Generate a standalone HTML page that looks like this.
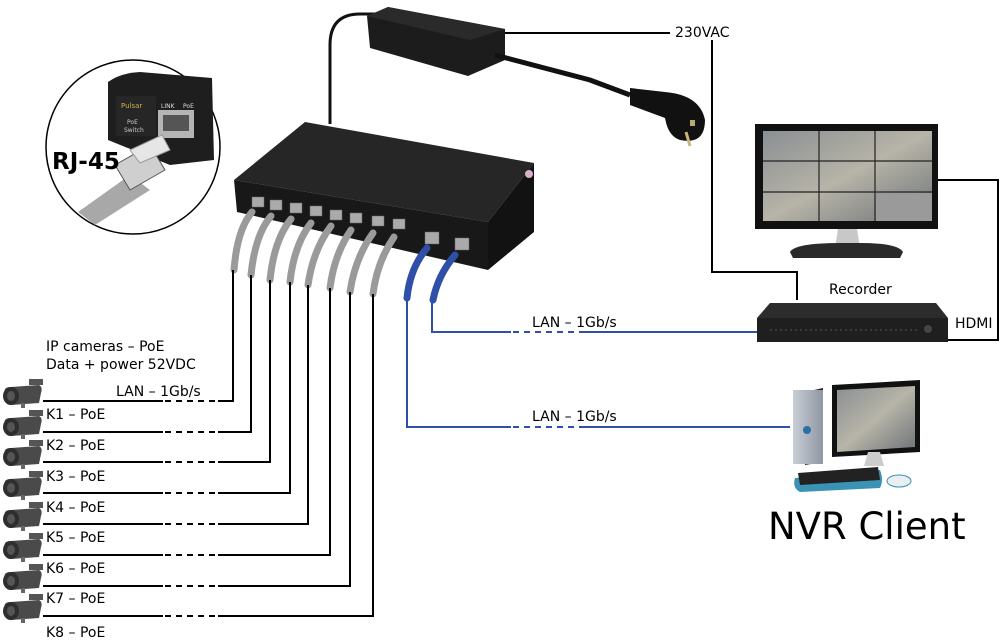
<!DOCTYPE html>
<html><head><meta charset="utf-8"><style>
html,body{margin:0;padding:0;background:#fff;}
svg{display:block;}
text{font-family:"DejaVu Sans","Liberation Sans",sans-serif;fill:#000;}
</style></head><body>
<svg width="1000" height="643" viewBox="0 0 1000 643" xmlns="http://www.w3.org/2000/svg">
<defs>
<linearGradient id="scr" x1="0" y1="0" x2="1" y2="1"><stop offset="0" stop-color="#8a8f93"/><stop offset="0.5" stop-color="#b7b4a8"/><stop offset="1" stop-color="#6d7377"/></linearGradient>
<linearGradient id="tow" x1="0" y1="0" x2="1" y2="0"><stop offset="0" stop-color="#c9ced6"/><stop offset="1" stop-color="#8f97a3"/></linearGradient>
<g id="cam">
<path d="M4,8 Q2,2 10,2 L38,0 Q42,2 40,8 L38,18 L10,20 Q2,20 4,8Z" fill="#4a4a4a"/>
<ellipse cx="10" cy="11" rx="8" ry="9" fill="#2e2e2e"/>
<ellipse cx="10" cy="11" rx="4" ry="5" fill="#555"/>
<rect x="28" y="-6" width="14" height="6" fill="#555"/>
<rect x="20" y="18" width="4" height="5" fill="#666"/>
</g>
</defs>

<path d="M330,124 L330,45 Q330,14 360,14 L390,14" fill="none" stroke="#111" stroke-width="3"/>
<polygon points="367,16 388,7 505,29 505,60 468,76 370,48" fill="#1c1c1c"/>
<polygon points="367,16 388,7 505,29 470,40" fill="#2a2a2a"/>
<path d="M495,55 L590,80 L630,95" fill="none" stroke="#111" stroke-width="5"/>
<path d="M630,88 L665,92 Q700,95 705,120 Q705,145 680,140 Q668,136 665,118 L630,105Z" fill="#111"/>
<rect x="690" y="120" width="5" height="6" fill="#bba870"/>
<line x1="686" y1="132" x2="690" y2="146" stroke="#c9b57a" stroke-width="3"/>

<polyline points="505,33 670,33" fill="none" stroke="#000" stroke-width="2"/>
<text x="675" y="37" font-size="14">230VAC</text>
<polyline points="712,40 712,272 797,272 797,300" fill="none" stroke="#000" stroke-width="2"/>

<polygon points="234,180 305,122 534,163 488,222" fill="#262626"/>
<polygon points="234,180 488,222 488,270 237,212" fill="#181818"/>
<polygon points="488,222 534,163 534,232 488,270" fill="#121212"/>
<circle cx="529" cy="174" r="4" fill="#d8b0c8"/>
<g fill="#aaa" stroke="#666" stroke-width="0.5">
<rect x="252" y="197" width="12" height="10"/><rect x="270" y="200" width="12" height="10"/>
<rect x="290" y="203" width="12" height="10"/><rect x="310" y="206" width="12" height="10"/>
<rect x="330" y="210" width="12" height="10"/><rect x="350" y="213" width="12" height="10"/>
<rect x="372" y="216" width="12" height="10"/><rect x="393" y="219" width="12" height="10"/>
<rect x="425" y="232" width="14" height="12"/><rect x="455" y="238" width="14" height="12"/>
</g>
<g fill="none" stroke="#9a9a9a" stroke-width="7" stroke-linecap="round">
<path d="M252,212 Q237,230 234,270"/>
<path d="M271,216 Q255,235 251,275"/>
<path d="M291,219 Q274,240 270,280"/>
<path d="M311,223 Q294,245 290,282"/>
<path d="M331,226 Q313,250 308,285"/>
<path d="M351,230 Q334,255 330,288"/>
<path d="M373,233 Q355,258 350,292"/>
<path d="M394,237 Q377,262 373,294"/>
</g>
<g fill="none" stroke="#2f4fa8" stroke-width="7" stroke-linecap="round">
<path d="M427,248 Q410,268 407,298"/>
<path d="M455,255 Q438,275 433,300"/>
</g>

<g fill="none" stroke="#000" stroke-width="2">
<polyline points="43,401 163,401"/><polyline points="218,401 233,401 233,270"/>
<polyline points="43,432 163,432"/><polyline points="218,432 251,432 251,275"/>
<polyline points="43,462 163,462"/><polyline points="218,462 270,462 270,280"/>
<polyline points="43,493 163,493"/><polyline points="218,493 290,493 290,282"/>
<polyline points="43,524 163,524"/><polyline points="218,524 308,524 308,285"/>
<polyline points="43,555 163,555"/><polyline points="218,555 330,555 330,288"/>
<polyline points="43,586 163,586"/><polyline points="218,586 350,586 350,292"/>
<polyline points="43,616 163,616"/><polyline points="218,616 373,616 373,294"/>
</g>
<g fill="none" stroke="#000" stroke-width="2" stroke-dasharray="6,5">
<line x1="165" y1="401" x2="218" y2="401"/><line x1="165" y1="432" x2="218" y2="432"/>
<line x1="165" y1="462" x2="218" y2="462"/><line x1="165" y1="493" x2="218" y2="493"/>
<line x1="165" y1="524" x2="218" y2="524"/><line x1="165" y1="555" x2="218" y2="555"/>
<line x1="165" y1="586" x2="218" y2="586"/><line x1="165" y1="616" x2="218" y2="616"/>
</g>
<g font-size="14">
<text x="46" y="351">IP cameras – PoE</text>
<text x="46" y="369">Data + power 52VDC</text>
<text x="116" y="396">LAN – 1Gb/s</text>
<text x="46" y="419">K1 – PoE</text>
<text x="46" y="450">K2 – PoE</text>
<text x="46" y="481">K3 – PoE</text>
<text x="46" y="512">K4 – PoE</text>
<text x="46" y="542">K5 – PoE</text>
<text x="46" y="573">K6 – PoE</text>
<text x="46" y="603">K7 – PoE</text>
<text x="46" y="637">K8 – PoE</text>
</g>
<use href="#cam" x="1" y="385"/><use href="#cam" x="1" y="416"/><use href="#cam" x="1" y="446"/>
<use href="#cam" x="1" y="477"/><use href="#cam" x="1" y="508"/><use href="#cam" x="1" y="539"/>
<use href="#cam" x="1" y="570"/><use href="#cam" x="1" y="600"/>

<g fill="none" stroke="#2f4fa8" stroke-width="2">
<polyline points="432,300 432,332 511,332"/><line x1="583" y1="332" x2="757" y2="332"/>
<polyline points="407,298 407,427 511,427"/><line x1="583" y1="427" x2="790" y2="427"/>
</g>
<g fill="none" stroke="#2f4fa8" stroke-width="2" stroke-dasharray="6,5">
<line x1="513" y1="332" x2="583" y2="332"/><line x1="513" y1="427" x2="583" y2="427"/>
</g>
<text x="532" y="327" font-size="14">LAN – 1Gb/s</text>
<text x="532" y="421" font-size="14">LAN – 1Gb/s</text>

<rect x="755" y="124" width="183" height="105" fill="#111"/>
<rect x="763" y="131" width="169" height="90" fill="url(#scr)"/>
<g stroke="#222" stroke-width="1.2"><line x1="819" y1="131" x2="819" y2="221"/><line x1="875" y1="131" x2="875" y2="221"/><line x1="763" y1="161" x2="932" y2="161"/><line x1="763" y1="192" x2="932" y2="192"/></g>
<rect x="876" y="193" width="56" height="28" fill="#9a9a9a"/>
<polygon points="838,229 857,229 860,248 835,248" fill="#c8c8c8"/>
<path d="M790,252 Q795,243 840,243 L860,243 Q898,243 903,252 L900,258 L793,258Z" fill="#2a2a2a"/>
<text x="829" y="294" font-size="14">Recorder</text>

<polyline points="938,180 998,180 998,340 948,340" fill="none" stroke="#000" stroke-width="2"/>
<text x="955" y="328" font-size="14">HDMI</text>

<polygon points="770,303 936,303 948,318 948,342 757,342 757,318" fill="#2c2c2c"/>
<polygon points="757,318 948,318 948,342 757,342" fill="#1f1f1f"/>
<line x1="770" y1="330" x2="920" y2="330" stroke="#555" stroke-width="1" stroke-dasharray="2,3"/>
<circle cx="928" cy="329" r="4" fill="#444"/>

<polygon points="832,385 920,380 920,452 832,457" fill="#111"/>
<polygon points="837,390 915,386 915,447 837,452" fill="url(#scr)"/>
<polygon points="805,392 823,388 823,462 805,465" fill="#222"/>
<rect x="793" y="390" width="30" height="74" fill="url(#tow)"/>
<circle cx="807" cy="430" r="4" fill="#2a6fa5"/>
<polygon points="868,452 880,452 884,466 864,466" fill="#ccc"/>
<path d="M795,478 L880,470 Q884,480 880,488 L800,492 Q792,488 795,478Z" fill="#3a93b5"/>
<polygon points="798,473 878,467 880,480 800,485" fill="#222"/>
<ellipse cx="899" cy="481" rx="12" ry="6" fill="#e8eef2" stroke="#3a93b5"/>
<text x="768" y="539" font-size="37">NVR Client</text>

<circle cx="133" cy="147" r="87" fill="#fff" stroke="#000" stroke-width="1.5"/>
<path d="M108,82 Q120,73 140,72 L212,78 L214,160 L170,165 L108,140Z" fill="#1e1e1e"/>
<rect x="116" y="96" width="40" height="40" fill="#262626"/>
<text x="121" y="108" font-size="7" style="fill:#c9b24a">Pulsar</text>
<text x="127" y="124" font-size="6" style="fill:#ccc">PoE</text>
<text x="124" y="132" font-size="6" style="fill:#ccc">Switch</text>
<rect x="158" y="110" width="36" height="28" fill="#b5b5b5"/>
<rect x="163" y="115" width="26" height="16" fill="#555"/>
<text x="161" y="108" font-size="6" style="fill:#ddd">LINK</text>
<text x="183" y="108" font-size="6" style="fill:#ddd">PoE</text>
<path d="M78,212 L130,175 L150,190 L95,225Z" fill="#a8a8a8"/>
<polygon points="115,165 150,145 165,170 130,190" fill="#cfcfcf" stroke="#555"/>
<polygon points="130,150 162,135 170,150 140,163" fill="#e6e6e6" stroke="#999"/>
<text x="52" y="169" font-size="23" font-weight="bold">RJ-45</text>
</svg>
</body></html>
